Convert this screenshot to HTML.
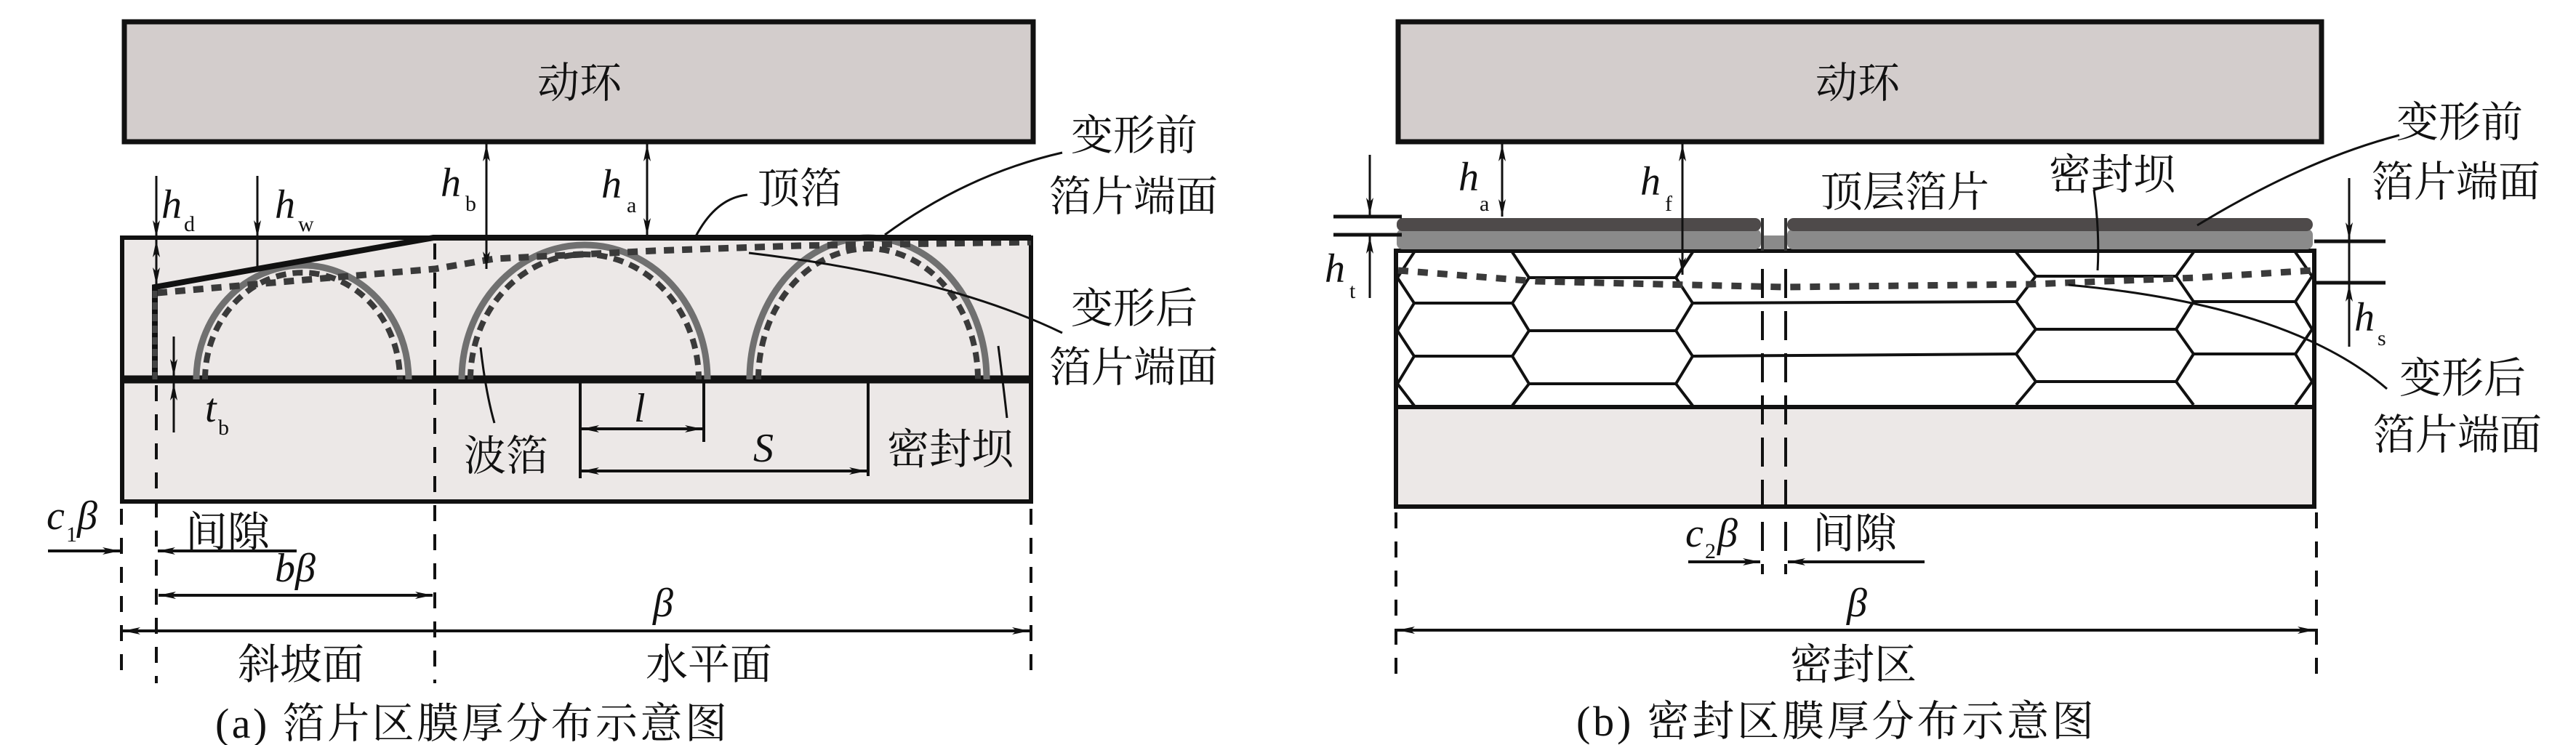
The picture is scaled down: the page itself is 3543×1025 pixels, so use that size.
<!DOCTYPE html>
<html><head><meta charset="utf-8"><style>
html,body{margin:0;padding:0;background:#fff;}
svg{display:block;}
.cn{font-family:"Liberation Serif","Noto Serif CJK SC",serif;font-size:58px;fill:#111;}
.it{font-family:"Liberation Serif",serif;font-style:italic;fill:#111;}
.sub{font-family:"Liberation Serif",serif;fill:#111;font-size:30px;}
</style></head><body>
<svg width="3543" height="1025" viewBox="0 0 3543 1025" xmlns="http://www.w3.org/2000/svg">
<defs>
<marker id="ar" viewBox="0 0 24 10" refX="24" refY="5" markerWidth="24" markerHeight="10" markerUnits="userSpaceOnUse" orient="auto-start-reverse">
<path d="M0,0 L24,5 L0,10 L6,5 z" fill="#111"/></marker>
</defs>

<!-- ============ LEFT PANEL ============ -->
<rect x="171" y="30" width="1250" height="165" fill="#d3cdcc" stroke="#111" stroke-width="7"/>
<text class="cn" x="797" y="134" text-anchor="middle">动环</text>

<rect x="168" y="327" width="1250" height="363" fill="#ece8e7" stroke="#111" stroke-width="6"/>
<line x1="168" y1="522" x2="1418" y2="522" stroke="#111" stroke-width="11"/>

<g fill="none" stroke="#707070" stroke-width="9">
<path d="M270,522 A146,157 0 0 1 562,522"/>
<path d="M635,522 A169,185 0 0 1 973,522"/>
<path d="M1031,522 A163,195 0 0 1 1357,522"/>
</g>
<g fill="none" stroke="#3a3a3a" stroke-width="8" stroke-dasharray="14,9">
<path d="M282,522 A134,147 0 0 1 550,522"/>
<path d="M647,522 A157,172 0 0 1 961,522"/>
<path d="M1043,522 A151,180 0 0 1 1345,522"/>
</g>
<polyline points="216,403 420,385 598,370 680,356 900,345 1100,338 1418,333" fill="none" stroke="#3a3a3a" stroke-width="9" stroke-dasharray="14,11"/>
<polyline points="213,522 213,395 596,327 1418,327" fill="none" stroke="#111" stroke-width="8"/>
<line x1="213" y1="400" x2="213" y2="522" stroke="#444" stroke-width="7" stroke-dasharray="10,6"/>

<g stroke="#111" stroke-width="4" stroke-dasharray="22,18">
<line x1="598" y1="335" x2="598" y2="940"/>
<line x1="167" y1="700" x2="167" y2="940"/>
<line x1="215" y1="530" x2="215" y2="940"/>
<line x1="1418" y1="700" x2="1418" y2="940"/>
</g>

<g stroke="#111" stroke-width="3" fill="none">
<line x1="215" y1="242" x2="215" y2="327" marker-end="url(#ar)"/>
<line x1="215" y1="330" x2="215" y2="392" marker-start="url(#ar)" marker-end="url(#ar)"/>
<line x1="354" y1="242" x2="354" y2="327" marker-end="url(#ar)"/>
<line x1="354" y1="327" x2="354" y2="370"/>
<line x1="669" y1="198" x2="669" y2="370" marker-start="url(#ar)" marker-end="url(#ar)"/>
<line x1="890" y1="198" x2="890" y2="324" marker-start="url(#ar)" marker-end="url(#ar)"/>
<line x1="239" y1="463" x2="239" y2="518" marker-end="url(#ar)"/>
<line x1="239" y1="595" x2="239" y2="527" marker-end="url(#ar)"/>
</g>
<text class="it" x="222" y="300" font-size="56">h</text><text class="sub" x="253" y="318">d</text>
<text class="it" x="378" y="300" font-size="56">h</text><text class="sub" x="410" y="318">w</text>
<text class="it" x="606" y="270" font-size="56">h</text><text class="sub" x="640" y="290">b</text>
<text class="it" x="827" y="272" font-size="56">h</text><text class="sub" x="862" y="292">a</text>
<text class="it" x="282" y="580" font-size="56">t</text><text class="sub" x="300" y="598">b</text>

<g stroke="#111" stroke-width="4" fill="none">
<line x1="798" y1="522" x2="798" y2="658"/>
<line x1="968" y1="522" x2="968" y2="608"/>
<line x1="1194" y1="522" x2="1194" y2="655"/>
<line x1="800" y1="590" x2="966" y2="590" marker-start="url(#ar)" marker-end="url(#ar)"/>
<line x1="800" y1="648" x2="1192" y2="648" marker-start="url(#ar)" marker-end="url(#ar)"/>
</g>
<text class="it" x="872" y="580" font-size="56">l</text>
<text class="it" x="1036" y="635" font-size="56">S</text>
<text class="cn" x="638" y="647">波箔</text>
<text class="cn" x="1220" y="638">密封坝</text>
<g stroke="#111" stroke-width="3" fill="none">
<path d="M661,478 Q668,540 680,582"/>
<path d="M1373,476 Q1380,530 1385,575"/>
<path d="M957,325 Q985,272 1028,268"/>
<path d="M1217,323 Q1330,240 1461,210"/>
<path d="M1030,348 Q1300,380 1461,458"/>
</g>
<text class="cn" x="1042" y="279">顶箔</text>
<text class="cn" x="1473" y="206">变形前</text>
<text class="cn" x="1443" y="290">箔片端面</text>
<text class="cn" x="1473" y="444">变形后</text>
<text class="cn" x="1443" y="525">箔片端面</text>

<g stroke="#111" stroke-width="4" fill="none">
<line x1="66" y1="758" x2="165" y2="758" marker-end="url(#ar)"/>
<line x1="408" y1="758" x2="217" y2="758" marker-end="url(#ar)"/>
<line x1="218" y1="819" x2="595" y2="819" marker-start="url(#ar)" marker-end="url(#ar)"/>
<line x1="169" y1="868" x2="1416" y2="868" marker-start="url(#ar)" marker-end="url(#ar)"/>
</g>
<text class="it" x="64" y="728" font-size="56">c</text><text class="sub" x="91" y="745" font-size="24">1</text><text class="it" x="106" y="728" font-size="56">β</text>
<text class="cn" x="255" y="752">间隙</text>
<text class="it" x="378" y="800" font-size="56">bβ</text>
<text class="it" x="898" y="848" font-size="56">β</text>
<text class="cn" x="414" y="934" text-anchor="middle">斜坡面</text>
<text class="cn" x="975" y="934" text-anchor="middle">水平面</text>
<text class="cn" x="296" y="1015" textLength="704" lengthAdjust="spacing">(a) 箔片区膜厚分布示意图</text>

<!-- ============ RIGHT PANEL ============ -->
<rect x="1923" y="30" width="1270" height="165" fill="#d3cdcc" stroke="#111" stroke-width="7"/>
<text class="cn" x="2555" y="134" text-anchor="middle">动环</text>

<rect x="1920" y="560" width="1263" height="137" fill="#ece8e7" stroke="#111" stroke-width="6"/>
<rect x="1920" y="345" width="1263" height="215" fill="#fff" stroke="#111" stroke-width="6"/>
<rect x="1921" y="315" width="501" height="28" rx="8" fill="#8a8a8a"/>
<rect x="2458" y="315" width="723" height="28" rx="8" fill="#8a8a8a"/>
<rect x="2424" y="324" width="32" height="19" fill="#8a8a8a"/>
<rect x="1921" y="300" width="501" height="18" rx="8" fill="#4e4a4a"/>
<rect x="2458" y="300" width="723" height="18" rx="9" fill="#4e4a4a"/>
<line x1="2424" y1="300" x2="2424" y2="345" stroke="#333" stroke-width="4"/>
<line x1="2456" y1="300" x2="2456" y2="345" stroke="#333" stroke-width="4"/>

<g fill="none" stroke="#111" stroke-width="4">
<polyline points="1945,347 1922,382 1945,417 1922,455 1945,490 1922,528 1945,558"/>
<polyline points="2080,347 2103,382 2080,417 2103,455 2080,490 2103,528 2080,558"/>
<polyline points="2328,347 2305,382 2328,417 2305,455 2328,490 2305,528 2328,558"/>
<polyline points="2773,347 2800,380 2773,415 2800,453 2773,487 2800,525 2773,557"/>
<polyline points="3017,347 2993,380 3017,415 2993,453 3017,487 2993,525 3017,557"/>
<polyline points="3157,347 3180,380 3157,415 3180,453 3157,487 3180,525 3157,557"/>
<line x1="1945" y1="417" x2="2080" y2="417"/><line x1="1945" y1="490" x2="2080" y2="490"/>
<line x1="2103" y1="382" x2="2305" y2="382"/><line x1="2103" y1="455" x2="2305" y2="455"/><line x1="2103" y1="528" x2="2305" y2="528"/>
<line x1="2328" y1="417" x2="2773" y2="415"/><line x1="2328" y1="490" x2="2773" y2="487"/>
<line x1="2800" y1="380" x2="2993" y2="380"/><line x1="2800" y1="453" x2="2993" y2="453"/><line x1="2800" y1="525" x2="2993" y2="525"/>
<line x1="3017" y1="415" x2="3157" y2="415"/><line x1="3017" y1="487" x2="3157" y2="487"/>
</g>
<polyline points="1923,372 2113,387 2454,395 2794,391 3022,382 3181,372" fill="none" stroke="#3a3a3a" stroke-width="9" stroke-dasharray="14,13"/>

<g stroke="#111" stroke-width="4" stroke-dasharray="40,18">
<line x1="2424" y1="370" x2="2424" y2="790"/>
<line x1="2456" y1="370" x2="2456" y2="790"/>
</g>
<g stroke="#111" stroke-width="4" stroke-dasharray="22,18">
<line x1="1920" y1="705" x2="1920" y2="940"/>
<line x1="3186" y1="705" x2="3186" y2="940"/>
</g>

<g stroke="#111" stroke-width="3" fill="none">
<line x1="2066" y1="198" x2="2066" y2="298" marker-start="url(#ar)" marker-end="url(#ar)"/>
<line x1="2314" y1="198" x2="2314" y2="378" marker-start="url(#ar)" marker-end="url(#ar)"/>
<line x1="1884" y1="213" x2="1884" y2="296" marker-end="url(#ar)"/>
<line x1="1884" y1="410" x2="1884" y2="325" marker-end="url(#ar)"/>
<line x1="1834" y1="298" x2="1928" y2="298" stroke-width="5"/>
<line x1="1834" y1="323" x2="1928" y2="323" stroke-width="5"/>
<line x1="3231" y1="245" x2="3231" y2="330" marker-end="url(#ar)"/>
<line x1="3231" y1="477" x2="3231" y2="391" marker-end="url(#ar)"/>
<line x1="3231" y1="332" x2="3231" y2="389"/>
<line x1="3183" y1="332" x2="3281" y2="332" stroke-width="5"/>
<line x1="3183" y1="389" x2="3281" y2="389" stroke-width="5"/>
<path d="M2880,261 Q2888,320 2885,372"/>
<path d="M3022,310 Q3170,220 3300,186"/>
<path d="M2845,392 Q3150,420 3283,535"/>
</g>
<text class="it" x="2006" y="262" font-size="56">h</text><text class="sub" x="2035" y="290">a</text>
<text class="it" x="2256" y="268" font-size="56">h</text><text class="sub" x="2290" y="290">f</text>
<text class="it" x="1822" y="388" font-size="56">h</text><text class="sub" x="1856" y="410">t</text>
<text class="it" x="3238" y="455" font-size="56">h</text><text class="sub" x="3270" y="475">s</text>
<text class="cn" x="2504" y="284">顶层箔片</text>
<text class="cn" x="2818" y="260">密封坝</text>
<text class="cn" x="3296" y="188">变形前</text>
<text class="cn" x="3262" y="270">箔片端面</text>
<text class="cn" x="3300" y="540">变形后</text>
<text class="cn" x="3264" y="618">箔片端面</text>

<g stroke="#111" stroke-width="4" fill="none">
<line x1="2322" y1="773" x2="2421" y2="773" marker-end="url(#ar)"/>
<line x1="2647" y1="773" x2="2459" y2="773" marker-end="url(#ar)"/>
<line x1="1922" y1="867" x2="3184" y2="867" marker-start="url(#ar)" marker-end="url(#ar)"/>
</g>
<text class="it" x="2318" y="752" font-size="56">c</text><text class="sub" x="2345" y="768" font-size="24">2</text><text class="it" x="2362" y="752" font-size="56">β</text>
<text class="cn" x="2493" y="754">间隙</text>
<text class="it" x="2540" y="848" font-size="56">β</text>
<text class="cn" x="2549" y="934" text-anchor="middle">密封区</text>
<text class="cn" x="2168" y="1012" textLength="712" lengthAdjust="spacing">(b) 密封区膜厚分布示意图</text>
</svg>
</body></html>
